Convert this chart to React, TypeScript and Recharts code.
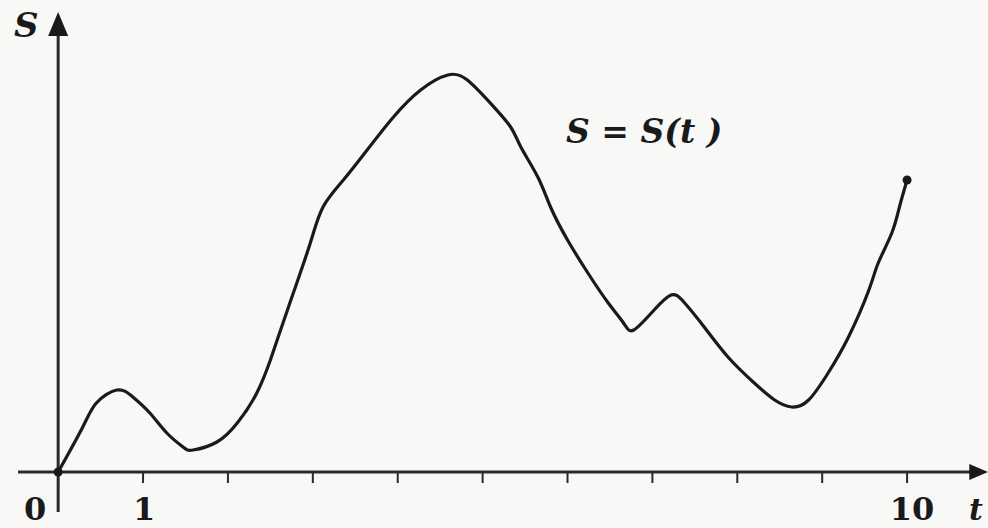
import React from "react";
import { LineChart, Line, XAxis, YAxis, ReferenceLine, ReferenceDot } from "recharts";

// t values and S(t) values
const T = [
  0, 0.29, 0.45, 0.69, 0.88, 1.08, 1.28, 1.47, 1.59, 1.87, 2.11, 2.34, 2.5, 2.58, 2.77, 2.97,
  3.12, 3.36, 3.64, 3.95, 4.27, 4.59, 4.82, 5.09, 5.33, 5.45, 5.65, 5.8, 6.0, 6.24, 6.48, 6.66,
  6.78, 7.02, 7.22, 7.37, 7.61, 7.89, 8.2, 8.44, 8.64, 8.84, 9.07, 9.31, 9.55, 9.66, 9.82, 9.91, 10,
];
const S = [
  0, 45, 69, 82, 75, 59, 39, 25, 22, 30, 49, 79, 112, 132, 179, 229,
  265, 292, 322, 355, 382, 397, 392, 369, 345, 325, 295, 265, 232, 199, 169, 149,
  142, 162, 177, 170, 145, 115, 89, 72, 65, 72, 99, 135, 182, 209, 239, 265, 292,
];
const TICKS = [0, 1, 2, 3, 4, 5, 6, 7, 8, 9, 10];
const LABELED = [0, 1, 10];

const data = T.map((t, i) => ({ t, s: S[i] }));

const INK = "#1a1a1a";
const FONT = "'DejaVu Serif', 'Liberation Serif', serif";

const Tick = (props: any) => {
  const { x, y, payload } = props;
  const v = payload.value;
  if (!LABELED.includes(v)) return <g />;
  const dx = v === 0 ? -23 : v === 10 ? 5 : 1;
  return (
    <text x={x + dx} y={y} dy={35} textAnchor="middle" fontFamily={FONT} fontWeight="bold" fontSize={32} fill={INK}>
      {v}
    </text>
  );
};

const EndDot = (props: any) => {
  const { cx, cy, index } = props;
  if (index === 0) return <circle key="d0" cx={cx} cy={cy} r={4.5} fill={INK} />;
  if (index === data.length - 1) return <circle key="dn" cx={cx} cy={cy} r={4.5} fill={INK} />;
  return <g key={"d" + index} />;
};

const UpArrow = (p: any) => (
  <polygon points={`${p.cx},${p.cy - 12} ${p.cx - 10},${p.cy + 12} ${p.cx + 10},${p.cy + 12}`} fill={INK} />
);
const RightArrow = (p: any) => (
  <polygon points={`${p.cx + 9},${p.cy} ${p.cx - 10},${p.cy - 8} ${p.cx - 10},${p.cy + 8}`} fill={INK} />
);

export default function App() {
  return (
    <div style={{ position: "fixed", left: 0, top: 0, width: 988, height: 528, background: "#f8f8f7" }}>
      <LineChart width={988} height={528} data={data} margin={{ top: 12, right: 13, bottom: 16, left: 18 }}>
        <XAxis
          type="number"
          dataKey="t"
          domain={[-0.473, 10.8]}
          ticks={TICKS}
          interval={0}
          height={40}
          tickSize={11}
          tickMargin={2}
          axisLine={{ stroke: "#2a2a2a", strokeWidth: 3 }}
          tickLine={{ stroke: "#2a2a2a", strokeWidth: 2 }}
          tick={<Tick />}
        />
        <YAxis type="number" domain={[0, 460]} hide />
        <ReferenceLine
          segment={[{ x: 0, y: -40 }, { x: 0, y: 440 }]}
          stroke="#2a2a2a"
          strokeWidth={3}
          ifOverflow="visible"
        />
        <ReferenceDot x={0} y={448} r={0} shape={UpArrow} ifOverflow="visible" />
        <ReferenceDot x={10.85} y={0} r={0} shape={RightArrow} ifOverflow="visible" />
        <Line
          type="natural"
          dataKey="s"
          stroke={INK}
          strokeWidth={3.2}
          dot={EndDot}
          activeDot={false}
          isAnimationActive={false}
        />
      </LineChart>
      <svg width={988} height={528} style={{ position: "absolute", left: 0, top: 0, pointerEvents: "none" }}>
        <text x={14} y={37} fontFamily={FONT} fontStyle="italic" fontWeight="bold" fontSize={34} fill={INK}>
          S
        </text>
        <text x={566} y={143} fontFamily={FONT} fontStyle="italic" fontWeight="bold" fontSize={33} fill={INK}>
          S = S(t )
        </text>
        <text x={969} y={520} fontFamily={FONT} fontStyle="italic" fontWeight="bold" fontSize={30} fill={INK}>
          t
        </text>
      </svg>
    </div>
  );
}
